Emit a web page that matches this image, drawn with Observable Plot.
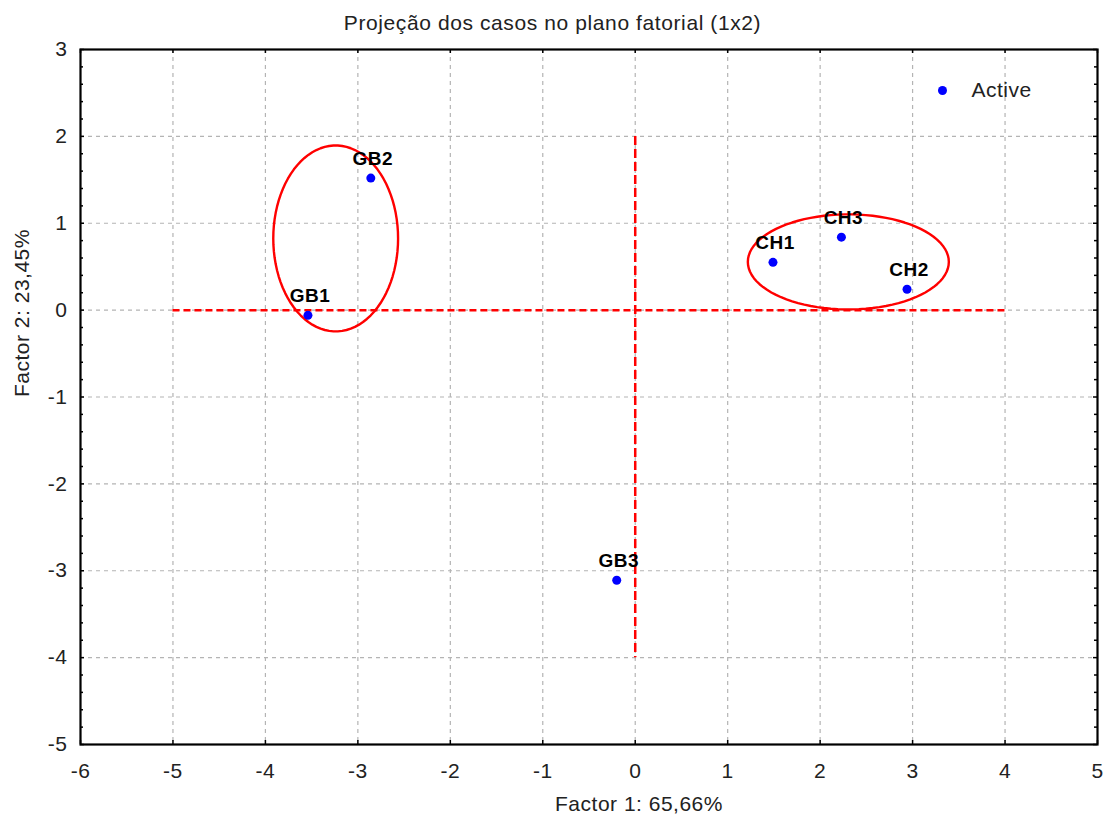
<!DOCTYPE html>
<html>
<head>
<meta charset="utf-8">
<script src="https://cdn.jsdelivr.net/npm/d3@7"></script>
<script src="https://cdn.jsdelivr.net/npm/@observablehq/plot@0.6"></script>
<style>
  html, body { margin: 0; padding: 0; background: #fff; }
  #wrap { position: relative; width: 1105px; height: 819px; }
  #title { position: absolute; left: 0; top: 0; height: 40px; width: 1105px; text-align: center; font-family: "Liberation Sans", Arial, sans-serif; font-size: 21px; letter-spacing: 0.6px; line-height: 46px; color: #222; z-index: 2; }
  svg { display: block; overflow: visible; }
</style>
</head>
<body>
<div id="wrap">
<div id="title"></div>
<div id="chart"></div>
</div>
<script>
const titleText = "Projeção dos casos no plano fatorial (1x2)";
const xLabel = "Factor 1: 65,66%";
const yLabel = "Factor 2: 23,45%";
const legendLabel = "Active";

const caseNames = ["GB1", "GB2", "GB3", "CH1", "CH2", "CH3"];
const factor1 = [-3.54, -2.86, -0.20, 1.49, 2.94, 2.23];
const factor2 = [-0.06, 1.52, -3.11, 0.55, 0.24, 0.84];

const xTicks = [-6, -5, -4, -3, -2, -1, 0, 1, 2, 3, 4, 5];
const yTicks = [-5, -4, -3, -2, -1, 0, 1, 2, 3];

// red dashed reference axes
const hLine = [{x1: -5, x2: 4, y: 0}];
const vLine = [{x: 0, y1: 2, y2: -4}];

// ellipse annotations: centre and radii
const ellipseNames = ["GB", "CH"];
const ellipseCx = [-3.24, 2.305];
const ellipseCy = [0.825, 0.555];
const ellipseRx = [0.675, 1.087];
const ellipseRy = [1.07, 0.547];

document.getElementById("title").textContent = titleText;

const points = caseNames.map((name, i) => ({name, x: factor1[i], y: factor2[i]}));

const ellipsePts = [];
ellipseNames.forEach((g, k) => {
  for (let j = 0; j <= 90; j++) {
    const t = (j / 90) * 2 * Math.PI;
    ellipsePts.push({g, x: ellipseCx[k] + ellipseRx[k] * Math.cos(t), y: ellipseCy[k] + ellipseRy[k] * Math.sin(t)});
  }
});

const yMinor = d3.range(-5, 3.0001, 0.2).map(v => Math.round(v * 10) / 10).filter(v => !yTicks.includes(v));

const font = "Liberation Sans, Arial, sans-serif";
const fmt = d => String(d);

const chart = Plot.plot({
  width: 1105,
  height: 819,
  marginTop: 49,
  marginBottom: 75,
  marginLeft: 80,
  marginRight: 8,
  style: {fontFamily: font, fontSize: "21px", color: "#222", background: "transparent", letterSpacing: "0.5px", overflow: "visible"},
  x: {domain: [-6, 5], ticks: xTicks, label: null},
  y: {domain: [-5, 3], ticks: yTicks, label: null},
  marks: [
    Plot.gridX(xTicks.filter(v => v > -6 && v < 5), {stroke: "#b4b4b4", strokeOpacity: 1, strokeDasharray: "4,4", strokeWidth: 1.2}),
    Plot.gridY(yTicks.filter(v => v > -5 && v < 3), {stroke: "#b4b4b4", strokeOpacity: 1, strokeDasharray: "4,4", strokeWidth: 1.2}),
    Plot.axisX(xTicks, {anchor: "bottom", tickSize: 0, tickPadding: 19, label: null, tickFormat: fmt, fontSize: 21}),
    Plot.axisY(yTicks, {anchor: "left", tickSize: 0, tickPadding: 13, label: null, tickFormat: fmt, fontSize: 21}),
    // inward tick marks
    Plot.ruleX(xTicks, {x: d => d, y1: -5, y2: -5, insetBottom: 4, stroke: "#000", strokeWidth: 1.5}),
    Plot.ruleX(xTicks, {x: d => d, y1: 3, y2: 3, insetTop: 4, stroke: "#000", strokeWidth: 1.5}),
    Plot.ruleY(yTicks, {y: d => d, x1: -6, x2: -6, insetLeft: 4, stroke: "#000", strokeWidth: 1.5}),
    Plot.ruleY(yTicks, {y: d => d, x1: 5, x2: 5, insetRight: 4, stroke: "#000", strokeWidth: 1.5}),
    Plot.ruleY(yMinor, {y: d => d, x1: -6, x2: -6, insetLeft: 3, stroke: "#000", strokeWidth: 1.5}),
    Plot.ruleY(yMinor, {y: d => d, x1: 5, x2: 5, insetRight: 3, stroke: "#000", strokeWidth: 1.5}),
    // red dashed axes
    Plot.ruleY(hLine, {y: "y", x1: "x1", x2: "x2", stroke: "#ff0000", strokeWidth: 2.5, strokeDasharray: "7,4"}),
    Plot.ruleX(vLine, {x: "x", y1: "y1", y2: "y2", stroke: "#ff0000", strokeWidth: 2.5, strokeDasharray: "9,4"}),
    // ellipses
    Plot.line(ellipsePts, {x: "x", y: "y", z: "g", stroke: "#ff0000", strokeWidth: 2.4}),
    // points
    Plot.dot(points, {x: "x", y: "y", r: 4.5, fill: "#0000ff", stroke: null}),
    Plot.text(points, {x: "x", y: "y", text: "name", dy: -19, dx: 2, fontWeight: "bold", fontSize: 19, fill: "#000", letterSpacing: "4px", textAnchor: "middle", lineAnchor: "middle"}),
    // legend
    Plot.dot([legendLabel], {frameAnchor: "top-right", dx: -155, dy: 41, r: 4.5, fill: "#0000ff"}),
    Plot.text([legendLabel], {frameAnchor: "top-right", dx: -126, dy: 41, text: d => d, textAnchor: "start", lineAnchor: "middle", fontSize: 21, fill: "#222"}),
    // axis titles
    Plot.text([xLabel], {frameAnchor: "bottom", dx: 50, dy: 60, text: d => d, lineAnchor: "middle", fontSize: 21, fill: "#222"}),
    Plot.text([yLabel], {frameAnchor: "left", dx: -58, text: d => d, rotate: -90, lineAnchor: "middle", fontSize: 21, fill: "#222"}),
    // frame
    Plot.frame({stroke: "#000", strokeWidth: 2.2})
  ]
});
document.getElementById("chart").appendChild(chart);
</script>
</body>
</html>
